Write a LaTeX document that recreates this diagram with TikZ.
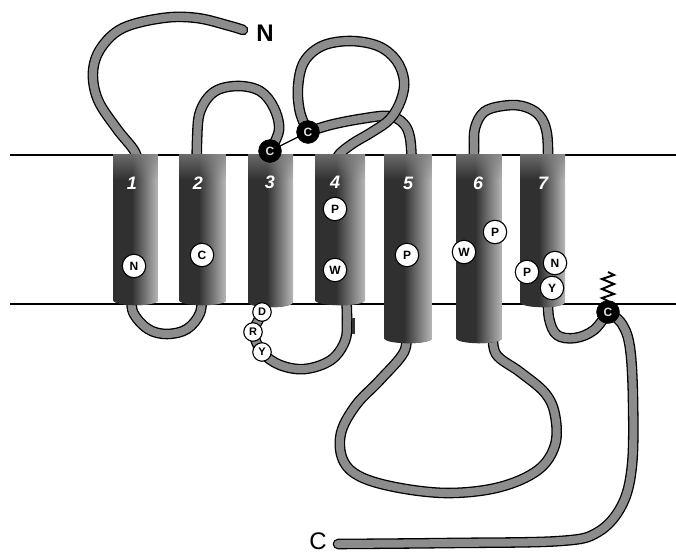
\documentclass[tikz,border=0pt]{standalone}
\usepackage{fontspec}
\setmainfont{Liberation Sans}
\usetikzlibrary{fadings}
\definecolor{tubegray}{gray}{0.55}
\definecolor{hdark}{gray}{0.19}
\definecolor{hlight}{gray}{0.72}
\definecolor{hcap}{gray}{0.5}
\tikzset{
  tube/.style={line width=1.3pt, double=tubegray, double distance=8pt, line cap=round, line join=round},
  res/.style={circle, draw=black, line width=1.1pt, fill=white, inner sep=0pt, minimum size=23.5pt, font=\fontsize{12}{12}\selectfont\bfseries},
  ressmall/.style={res, minimum size=18.5pt, font=\fontsize{11}{11}\selectfont\bfseries},
  cys/.style={circle, fill=black, draw=black, inner sep=0pt, minimum size=23pt, text=gray!25, font=\fontsize{12}{12}\selectfont\bfseries},
  hnum/.style={text=white, font=\fontsize{18}{18}\selectfont\bfseries\itshape},
  membrane/.style={line width=1.8pt},
}
\newcommand\helixcyl[3]{%
  \begin{scope}
    \clip (#1,154) -- (#1,#3) .. controls (#1,#3+7) and (#2,#3+7) .. (#2,#3) -- (#2,154) -- cycle;
    \fill[hdark] (#1,140) rectangle (#2,#3+10);
    \shade[left color=hdark, right color=hlight] ({#1+0.42*(#2-#1)},140) rectangle (#2,#3+10);
    \fill[hcap, fill opacity=0.85, path fading=south] (#1,150) rectangle (#2,180);
  \end{scope}}
\begin{document}
\begin{tikzpicture}[x=1pt,y=-1pt]
\useasboundingbox (0,0) rectangle (676,554);
\fill[white] (0,0) rectangle (676,554);
% membrane
\coordinate (mTL) at (10,155); \coordinate (mTR) at (676,155);
\coordinate (mBL) at (10,304); \coordinate (mBR) at (676,304);
\draw[membrane] (mTL) -- (mTR);
\draw[membrane] (mBL) -- (mBR);
% named anchor points
\coordinate (Nend) at (243,30);
\coordinate (Cend) at (338,544);
\coordinate (cA) at (270,151);
\coordinate (cB) at (308,132);
\coordinate (cC) at (608,312);
\coordinate (zz) at (608,301);
% tubes
\draw[tube] plot[smooth,tension=0.6] coordinates {(Nend) (230,26) (197,18) (163,18) (123,28) (101,48) (93,72) (98,100) (117,129) (135,152) (139,170)};
\draw[tube] plot[smooth,tension=0.6] coordinates {(132,292) (133,312) (148,329) (167,334) (187,329) (200,313) (202,292)};
\draw[tube] plot[smooth,tension=0.6] coordinates {(197,168) (197,142) (200,112) (214,92) (237,86) (260,91) (274,108) (279,130) (cA)};
\draw[tube] (cA) -- (270,168);
\draw[tube] plot[smooth,tension=0.6] coordinates {(263,292) (262,312) (254,332) (262,352) (280,365) (305,369) (331,360) (345,341) (347,320) (346,292)};
\draw[tube] plot[smooth,tension=0.6] coordinates {(cB) (330,125) (360,119) (388,116) (403,123) (410,138) (412,168)};
\draw[tube] plot[smooth,tension=0.6] coordinates {(337,168) (338,156) (352,144) (372,132) (390,119) (401,100) (404,80) (396,60) (378,46) (350,41) (322,46) (304,62) (298,87) (300,112) (cB)};
\draw[tube] plot[smooth,tension=0.6] coordinates {(406,330) (404,352) (380,380) (356,405) (341,433) (343,460) (361,477) (400,488) (450,493) (500,487) (538,470) (555,445) (555,415) (545,393) (520,372) (496,354) (493,330)};
\draw[tube] plot[smooth,tension=0.6] coordinates {(474,168) (474,148) (475,128) (484,112) (502,106) (522,106) (539,115) (547,134) (548,168)};
\draw[tube] plot[smooth,tension=0.6] coordinates {(548,292) (549,318) (557,335) (575,338) (594,330) (cC)};
\draw[tube] plot[smooth,tension=0.6] coordinates {(cC) (622,324) (630,348) (633,400) (632,465) (622,505) (598,532) (560,541) (450,543) (Cend)};
% small dark mark at the right edge of the loop below helix 4
\draw[line width=3pt, black!80] (353.5,318) -- (353.5,334);
% helices
\helixcyl{113}{158}{300}
\helixcyl{179}{226}{300}
\helixcyl{248}{293}{302}
\helixcyl{315}{365}{300}
\helixcyl{384}{432}{338}
\helixcyl{456}{502}{338}
\helixcyl{520}{565}{302}
% helix numbers
\node[hnum] (n1) at (132,183) {1};
\node[hnum] (n2) at (198,183) {2};
\node[hnum] (n3) at (270,182) {3};
\node[hnum] (n4) at (335,182) {4};
\node[hnum] (n5) at (408,183) {5};
\node[hnum] (n6) at (478,183) {6};
\node[hnum] (n7) at (543,183) {7};
% residues
\node[res] (r1N) at (134,266) {N};
\node[res] (r2C) at (202,255) {C};
\node[res] (r4P) at (335,209) {P};
\node[res] (r4W) at (335,270) {W};
\node[ressmall] (r3D) at (262,312) {D};
\node[ressmall] (r3R) at (253,332) {R};
\node[ressmall] (r3Y) at (262,352) {Y};
\node[res] (r5P) at (407,255) {P};
\node[res] (r6W) at (464,252) {W};
\node[res] (r6P) at (495,232) {P};
\node[res] (r7P) at (527,272) {P};
\node[res] (r7N) at (555,263) {N};
\node[res] (r7Y) at (552,288) {Y};
% cysteines
\draw[line width=1.3pt] (cA) -- (cB);
\node[cys] (cys1) at (cA) {C};
\node[cys] (cys2) at (cB) {C};
\draw[line width=2pt, line join=miter] (zz) -- (602,298) -- (614,294) -- (602,289) -- (614,284) -- (602,279) -- (614,275) -- (608,272);
\node[cys] (cys3) at (cC) {C};
% termini labels
\node[font=\fontsize{24}{24}\selectfont\bfseries] (Nlab) at (265,33) {N};
\node[font=\fontsize{24}{24}\selectfont] (Clab) at (318,541) {C};
\end{tikzpicture}
\end{document}
